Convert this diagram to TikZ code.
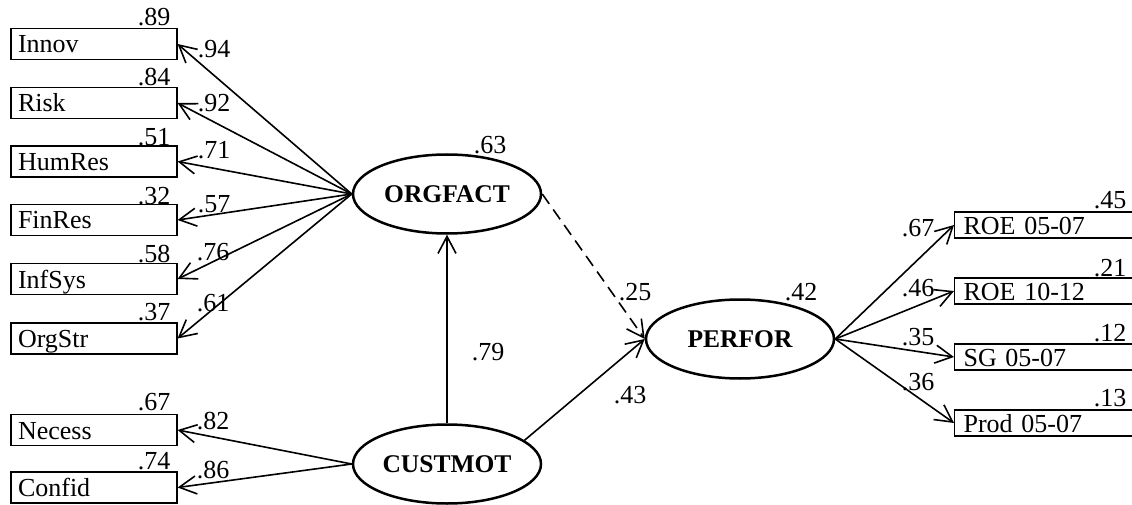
\documentclass[tikz,border=0pt]{standalone}
\usepackage{fontspec}
\setmainfont{Liberation Serif}
\usetikzlibrary{shapes.geometric,arrows.meta}
\begin{document}
\begin{tikzpicture}[x=1pt,y=-1pt,
  every node/.style={font=\fontsize{26}{30}\selectfont},
  obs/.style={draw, line width=1.2pt, rectangle, minimum width=166pt, minimum height=31pt, text width=152pt, align=left, inner xsep=7pt, inner ysep=0pt, text height=18pt, text depth=0pt},
  obsr/.style={draw, line width=1.2pt, rectangle, anchor=west, minimum height=26pt, text width=182pt, align=left, inner xsep=9pt, inner ysep=0pt, text height=18pt, text depth=0pt},
  lat/.style={draw, ellipse, line width=2.5pt, minimum width=188pt, minimum height=79pt, inner sep=0pt, font=\fontsize{25.5}{30}\selectfont\bfseries},
  coef/.style={inner sep=0pt},
  conn/.style={draw, line width=1.6pt, -{Straight Barb[length=17pt,width=18pt,line width=1.6pt]}},
]
\clip (0,0) rectangle (1132,505);
% observed (left)
\node[obs] (innov)  at (94,44)    {Innov};
\node[obs] (risk)   at (94,103)   {Risk};
\node[obs] (humres) at (94,161.5) {HumRes};
\node[obs] (finres) at (94,220)   {FinRes};
\node[obs] (infsys) at (94,279)   {InfSys};
\node[obs] (orgstr) at (94,338.5) {OrgStr};
\node[obs] (necess) at (94,430)   {Necess};
\node[obs] (confid) at (94,487.5) {Confid};
% observed (right)
\node[obsr] (roea) at (954,225) {ROE 05-07};
\node[obsr] (roeb) at (954,291) {ROE 10-12};
\node[obsr] (sg)   at (954,357) {SG 05-07};
\node[obsr] (prod) at (954,423) {Prod 05-07};
% latent
\node[lat] (orgfact) at (447,194) {ORGFACT};
\node[lat] (custmot) at (447,464) {CUSTMOT};
\node[lat] (perfor)  at (740,339) {PERFOR};
% connectors
\foreach \t in {innov,risk,humres,finres,infsys,orgstr}
  \draw[conn] (orgfact.west) -- (\t.east);
\draw[conn] (custmot.west) -- (necess.east);
\draw[conn] (custmot.west) -- (confid.east);
\draw[conn] (custmot.north) -- (orgfact.south);
\draw[conn] (custmot.17) -- (perfor.west);
\draw[conn, dash pattern=on 12pt off 7pt] (orgfact.east) -- (perfor.west);
\foreach \t in {roea,roeb,sg,prod}
  \draw[conn] (perfor.east) -- (\t.west);
% R^2 labels
\node[coef] (r1) at (154,17)  {.89};
\node[coef] (r2) at (154,77)  {.84};
\node[coef] (r3) at (154,137) {.51};
\node[coef] (r4) at (154,196) {.32};
\node[coef] (r5) at (154,254) {.58};
\node[coef] (r6) at (154,312) {.37};
\node[coef] (r7) at (154,402) {.67};
\node[coef] (r8) at (154,461) {.74};
\node[coef] (r9) at (490,145) {.63};
\node[coef] (r10) at (801,292) {.42};
\node[coef] (r11) at (1110,200) {.45};
\node[coef] (r12) at (1110,268) {.21};
\node[coef] (r13) at (1110,333) {.12};
\node[coef] (r14) at (1110,398) {.13};
% loadings
\node[coef] (l1) at (214,49)    {.94};
\node[coef] (l2) at (214,103)   {.92};
\node[coef] (l3) at (214,150.5) {.71};
\node[coef] (l4) at (214,204.5) {.57};
\node[coef] (l5) at (213,252)   {.76};
\node[coef] (l6) at (213,303)   {.61};
\node[coef] (l7) at (213,421)   {.82};
\node[coef] (l8) at (213,470)   {.86};
\node[coef] (p1) at (488,352) {.79};
\node[coef] (p2) at (635,292) {.25};
\node[coef] (p3) at (630,395) {.43};
\node[coef] (l9)  at (918,228) {.67};
\node[coef] (l10) at (918,288) {.46};
\node[coef] (l11) at (918,337) {.35};
\node[coef] (l12) at (918,382) {.36};
\end{tikzpicture}
\end{document}
